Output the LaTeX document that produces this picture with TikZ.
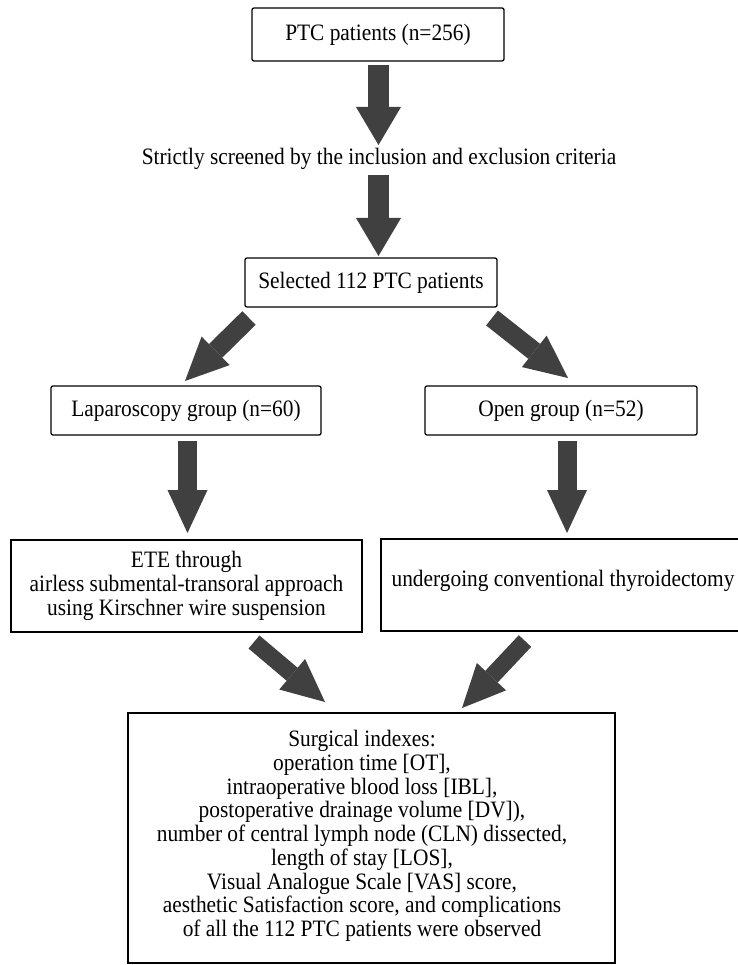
\documentclass[tikz,border=0pt]{standalone}
\usepackage{fontspec}
\setmainfont[FakeStretch=0.91]{Liberation Serif}
\usetikzlibrary{arrows.meta}
\definecolor{arrowgray}{HTML}{404040}
\begin{document}
\begin{tikzpicture}[x=1pt,y=-1pt,
  txt/.style={font=\fontsize{23.5}{23.7}\selectfont},
  box/.style={txt, draw=black, line width=1.3pt, inner sep=0pt, align=center},
  rbox/.style={box, rounded corners=2pt},
  plain/.style={txt, inner sep=0pt, align=center},
  fat/.style={draw=arrowgray, line width=19pt, line cap=butt,
    -{Triangle[width=40pt,length=43pt,line width=0pt]}},
  topfat/.style={draw=arrowgray, line width=21pt, line cap=butt,
    -{Triangle[width=45pt,length=38pt,line width=0pt]}}]
\useasboundingbox[fill=white] (0,0) rectangle (737,965);

% boxes
\node[rbox, minimum width=252pt, minimum height=53pt] (ptc) at (378,34.5) {PTC patients (n=256)};
\node[plain] (screen) at (379,159) {Strictly screened by the inclusion and exclusion criteria};
\node[rbox, minimum width=252pt, minimum height=49pt] (sel) at (371,282.5) {Selected 112 PTC patients};
\node[rbox, minimum width=270pt, minimum height=49pt] (lap) at (186,410.5) {Laparoscopy group (n=60)};
\node[rbox, minimum width=272pt, minimum height=49pt] (open) at (561,410.5) {Open group (n=52)};
\node[box, minimum width=351pt, minimum height=92pt] (ete) at (186.5,586)
  {ETE through\\airless submental-transoral approach\\using Kirschner wire suspension};
\node[box, minimum width=364pt, minimum height=92pt, text depth=12.5pt] (conv) at (563,585)
  {undergoing conventional thyroidectomy};
\node[box, minimum width=487pt, minimum height=250pt] (res) at (371.5,838) {};
\node[plain] (restext) at (362,836) {Surgical indexes:\\
operation time [OT],\\
intraoperative blood loss [IBL],\\
postoperative drainage volume [DV]),\\
number of central lymph node (CLN) dissected,\\
length of stay [LOS],\\
Visual Analogue Scale [VAS] score,\\
aesthetic Satisfaction score, and complications\\
of all the 112 PTC patients were observed};

% arrow end points
\coordinate (a1s) at (378.5,65);  \coordinate (a1e) at (378.5,145);
\coordinate (a2s) at (378.5,175); \coordinate (a2e) at (378.5,256);
\coordinate (a3s) at (249,318);   \coordinate (a3e) at (185,381);
\coordinate (a4s) at (492,318);   \coordinate (a4e) at (568,378);
\coordinate (a5s) at (187.5,441); \coordinate (a5e) at (187.5,533);
\coordinate (a6s) at (567,441);   \coordinate (a6e) at (567,533);
\coordinate (a7s) at (254,642);   \coordinate (a7e) at (325,702);
\coordinate (a8s) at (525,641);   \coordinate (a8e) at (462,708);

\draw[topfat] (a1s) -- (a1e);
\draw[topfat] (a2s) -- (a2e);
\draw[fat] (a3s) -- (a3e);
\draw[fat] (a4s) -- (a4e);
\draw[fat] (a5s) -- (a5e);
\draw[fat] (a6s) -- (a6e);
\draw[fat, line width=17pt] (a7s) -- (a7e);
\draw[fat, line width=17pt] (a8s) -- (a8e);
\end{tikzpicture}
\end{document}
